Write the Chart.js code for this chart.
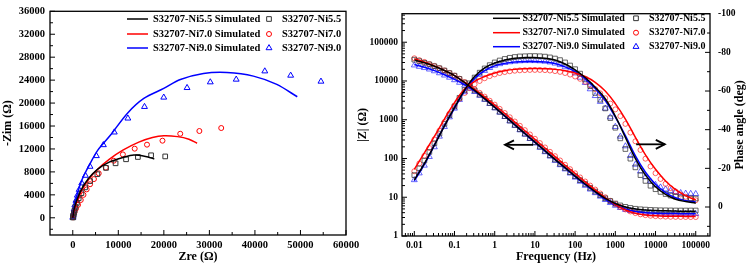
<!DOCTYPE html>
<html>
<head>
<meta charset="utf-8">
<script src="https://cdn.jsdelivr.net/npm/chart.js@4.4.0/dist/chart.umd.min.js"></script>
<style>
html, body { margin: 0; padding: 0; background: #fff; }
#wrap { position: relative; width: 751px; height: 269px; overflow: hidden; }
#nyq { position: absolute; left: 0; top: 0; }
#bode { position: absolute; left: 345px; top: 0; }
</style>
</head>
<body>
<div id="wrap">
  <canvas id="nyq" width="375" height="269"></canvas>
  <canvas id="bode" width="406" height="269"></canvas>
</div>
<script>
// series names
const seriesNames = ["S32707-Ni5.5", "S32707-Ni7.0", "S32707-Ni9.0"]

// ---- Nyquist (left) ----
const nyqXTicks = [0, 10000, 20000, 30000, 40000, 50000, 60000]
const nyqYTicks = [0, 4000, 8000, 12000, 16000, 20000, 24000, 28000, 32000, 36000]

// measured points
const nyqZre55 = [40, 80, 150, 250, 400, 600, 900, 1300, 1900, 2700, 3800, 5400, 7300, 9400, 11700, 14300, 17200, 20300]
const nyqZim55 = [50, 150, 400, 800, 1300, 1900, 2600, 3400, 4300, 5300, 6400, 7600, 8700, 9500, 10200, 10600, 10900, 10700]
const nyqZre70 = [60, 150, 400, 700, 1150, 1750, 2350, 3050, 3800, 4650, 5700, 7250, 9000, 11000, 13600, 16300, 19700, 23600, 27800, 32600]
const nyqZim70 = [80, 500, 1000, 1600, 2250, 3100, 4000, 4950, 5850, 6750, 7750, 8750, 9950, 11050, 12050, 12750, 13440, 14650, 15130, 15650]
const nyqZre90 = [20, 50, 100, 180, 300, 450, 700, 1000, 1400, 1970, 2780, 3790, 5190, 6720, 9120, 12100, 15750, 19980, 25100, 30200, 35890, 42170, 47850, 54500]
const nyqZim90 = [30, 150, 450, 900, 1500, 2200, 3000, 3900, 4900, 6030, 7360, 8930, 10790, 12700, 14910, 17340, 19360, 20990, 22660, 23650, 24120, 25560, 24810, 23770]

// simulated curves
const nyqSimZre55 = [0, 300, 1000, 2000, 3500, 5500, 8000, 11000, 13400, 16000, 17900]
const nyqSimZim55 = [0, 1500, 3300, 5100, 6900, 8500, 9700, 10500, 10950, 10700, 10260]
const nyqSimZre70 = [0, 300, 1000, 2000, 3500, 5500, 8000, 11000, 14500, 17500, 20000, 23000, 25500, 27300]
const nyqSimZim70 = [0, 1300, 3000, 4800, 6700, 8500, 10200, 11800, 13200, 14000, 14300, 14150, 13700, 13000]
const nyqSimZre90 = [0, 300, 1000, 2000, 3500, 5500, 8300, 11970, 15600, 19980, 23630, 28700, 33850, 39670, 44800, 49300]
const nyqSimZim90 = [0, 1800, 4200, 6600, 9000, 11800, 14430, 18200, 20800, 22550, 24100, 25150, 25320, 24700, 23250, 21100]

// ---- Bode (right) ----
const bodeFTicks = [0.01, 0.1, 1, 10, 100, 1000, 10000, 100000]
const bodeZTicks = [1, 10, 100, 1000, 10000, 100000]
const bodePTicks = [-100, -80, -60, -40, -20, 0]

const freqSim = [0.01, 0.0178, 0.0316, 0.0562, 0.1, 0.178, 0.316, 0.562, 1, 1.78, 3.16, 5.62, 10, 17.8, 31.6, 56.2,
  100, 178, 316, 562, 1000, 1780, 3160, 5620, 10000, 17800, 31600, 56200, 100000]
const zSim55 = [35000, 29500, 24000, 18600, 13800, 9100, 5700, 3500, 2100, 1250, 740, 440, 265, 158, 95, 58,
  35, 22, 14, 9.3, 6.9, 5.6, 5.0, 4.7, 4.55, 4.45, 4.4, 4.35, 4.35]
const zSim70 = [37500, 31000, 24500, 18600, 13700, 9300, 6100, 3900, 2400, 1450, 870, 520, 312, 186, 112, 67,
  41, 25, 15.5, 9.8, 6.5, 4.7, 3.85, 3.5, 3.33, 3.25, 3.22, 3.2, 3.18]
const zSim90 = [26500, 22500, 18500, 14500, 11000, 8000, 5500, 3420, 2070, 1240, 735, 435, 260, 155, 93, 56,
  34, 21, 13.5, 8.8, 6.3, 5.0, 4.3, 4.0, 3.85, 3.8, 3.78, 3.76, 3.75]
const pSim55 = [-14, -22.5, -32, -42, -51.5, -60.5, -67.5, -72, -74.5, -76, -77, -77.3, -77.3, -77, -76, -74,
  -71, -67, -62, -56, -47, -36, -25, -16.5, -10.5, -6.5, -4, -2.8, -2]
const pSim70 = [-19.5, -28, -36.5, -45.5, -54, -61, -65, -67.5, -69.3, -70.5, -71.2, -71.5, -71.6, -71.5, -71.2, -70.5,
  -69.3, -67.5, -64.5, -60, -53.5, -45.5, -36, -27, -19.5, -13.5, -9, -5.8, -3.6]
const pSim90 = [-13.5, -22, -32, -42, -51, -60, -66.5, -70.5, -73, -74.3, -75, -75.3, -75.3, -75, -74.2, -72.5,
  -70, -66.3, -61.3, -55, -46.5, -37, -26.5, -18, -11.8, -7.5, -4.8, -3.3, -2.6]

const freqExp = [0.01, 0.0133, 0.0178, 0.0237, 0.0316, 0.0422, 0.0562, 0.075,
  0.1, 0.133, 0.178, 0.237, 0.316, 0.422, 0.562, 0.75,
  1, 1.33, 1.78, 2.37, 3.16, 4.22, 5.62, 7.5,
  10, 13.3, 17.8, 23.7, 31.6, 42.2, 56.2, 75,
  100, 133, 178, 237, 316, 422, 562, 750,
  1000, 1330, 1780, 2370, 3160, 4220, 5620, 7500,
  10000, 13300, 17800, 23700, 31600, 42200, 56200, 75000,
  100000]
const zExp55 = [35500, 32500, 29500, 26800, 24000, 21300, 18600, 16000,
  13700, 11300, 9100, 7200, 5700, 4450, 3480, 2700,
  2080, 1610, 1240, 955, 735, 567, 437, 338,
  262, 203, 157, 121, 94, 73, 57, 44.5,
  35, 27.6, 22, 17.5, 14, 11.4, 9.4, 8,
  6.9, 6.15, 5.65, 5.3, 5.05, 4.9, 4.8, 4.72,
  4.66, 4.62, 4.6, 4.58, 4.56, 4.55, 4.55, 4.55,
  4.55]
const zExp70 = [38500, 34500, 31000, 27500, 24500, 21500, 18700, 16100,
  13800, 11500, 9400, 7600, 6150, 4950, 3950, 3100,
  2450, 1910, 1490, 1160, 900, 700, 540, 418,
  323, 250, 193, 149, 115, 89, 69, 53,
  41.5, 32.5, 25.5, 20, 15.8, 12.5, 10, 8.1,
  6.7, 5.6, 4.85, 4.3, 3.9, 3.62, 3.45, 3.33,
  3.25, 3.2, 3.16, 3.13, 3.11, 3.1, 3.09, 3.08,
  3.08]
const zExp90 = [25500, 23500, 21800, 20000, 18000, 16000, 14000, 12300,
  10600, 9100, 7700, 6400, 5250, 4200, 3300, 2580,
  2000, 1540, 1190, 915, 705, 542, 417, 322,
  248, 191, 147, 114, 88, 68, 53, 41.5,
  32.5, 25.5, 20, 16, 12.9, 10.5, 8.6, 7.2,
  6.1, 5.35, 4.8, 4.45, 4.2, 4.05, 3.95, 3.88,
  3.83, 3.8, 3.78, 3.77, 3.76, 3.75, 3.75, 3.74,
  3.74]
const pExp55 = [-16.5, -20, -24, -28.5, -33, -38, -43, -47.5,
  -52, -56.5, -60.5, -64, -67, -69.5, -71.7, -73.4,
  -74.8, -75.8, -76.6, -77.2, -77.6, -77.9, -78, -78.1,
  -78.1, -78, -77.8, -77.4, -76.8, -76, -74.8, -73.2,
  -71.3, -69, -66, -62.5, -59, -55.5, -51, -46,
  -41, -35.5, -30, -25, -20.5, -16.5, -13.5, -11,
  -9.2, -7.8, -6.7, -5.9, -5.3, -4.9, -4.6, -4.5,
  -4.4]
const pExp70 = [-18.5, -22.5, -26.5, -30.5, -35, -39.5, -44, -48.3,
  -52.5, -56, -59, -61.5, -63.5, -65.2, -66.6, -67.7,
  -68.6, -69.3, -69.8, -70.2, -70.5, -70.7, -70.8, -70.9,
  -70.9, -70.9, -70.8, -70.6, -70.3, -69.9, -69.3, -68.5,
  -67.5, -66.3, -64.8, -63, -61, -58.8, -56.3, -53.5,
  -50.5, -47, -43, -38.5, -34, -29.5, -25, -21,
  -17.5, -14.5, -12, -9.8, -8, -6.5, -5.3, -4.3,
  -3.5]
const pExp90 = [-14, -17.5, -21.5, -26, -31, -36.5, -41.5, -46.5,
  -51, -55.5, -59.5, -63, -66, -68.5, -70.5, -72,
  -73.2, -74, -74.6, -75, -75.3, -75.5, -75.6, -75.6,
  -75.6, -75.5, -75.3, -74.9, -74.3, -73.5, -72.4, -71,
  -69.2, -67, -64.3, -61, -57.5, -54.5, -51, -46.5,
  -41.5, -36.5, -31.5, -26.5, -22, -18.5, -15.5, -13.3,
  -11.5, -10.2, -9.2, -8.4, -7.8, -7.3, -7, -6.9,
  -6.8]

// ---------- helpers ----------
const FONT = '"Liberation Serif", "Times New Roman", serif'
Chart.defaults.font.family = FONT
Chart.defaults.font.weight = 'bold'
Chart.defaults.color = '#000'

const pts = (xs, ys) => xs.map((x, i) => ({x: x, y: ys[i]}))
const lineColors = ['#000000', '#ff0000', '#0000ff']
const markStyles = ['rect', 'circle', 'triangle']
const markRadius = [3.3, 2.5, 3.4]

function logMinors(lo, hi){
    const out = []
    for (let e = -3; e <= 6; e++){
        for (let m = 2; m <= 9; m++){
            const v = m * Math.pow(10, e)
            if (v > lo && v < hi) out.push(v)
        }
    }
    return out
}

// frame + inward tick marks
const frameTicks = {
    id: 'frameTicks',
    afterDraw(chart, args, o){
        const ctx = chart.ctx, a = chart.chartArea
        ctx.save()
        ctx.strokeStyle = '#000'
        ctx.lineWidth = 1.3
        ctx.strokeRect(a.left, a.top, a.right - a.left, a.bottom - a.top)
        ctx.lineWidth = 1
        o.marks.forEach(m => {
            const s = chart.scales[m.axis]
            ctx.beginPath()
            m.values.forEach(v => {
                const p = s.getPixelForValue(v)
                if (m.side === 'bottom'){ ctx.moveTo(p, a.bottom); ctx.lineTo(p, a.bottom - m.len) }
                else if (m.side === 'left'){ ctx.moveTo(a.left, p); ctx.lineTo(a.left + m.len, p) }
                else { ctx.moveTo(a.right, p); ctx.lineTo(a.right - m.len, p) }
            })
            ctx.stroke()
        })
        if (o.rightTitle){
            const t = o.rightTitle
            ctx.font = 'bold ' + t.size + 'px ' + FONT
            ctx.fillStyle = '#000'
            ctx.textAlign = 'center'
            ctx.textBaseline = 'middle'
            ctx.translate(t.x, (a.top + a.bottom) / 2)
            ctx.rotate(-Math.PI / 2)
            ctx.fillText(t.text, 0, 0)
        }
        ctx.restore()
    }
}

// two-column legend (simulated line | measured marker)
const boxLegend = {
    id: 'boxLegend',
    afterDraw(chart, args, o){
        const ctx = chart.ctx
        ctx.save()
        ctx.font = 'bold ' + o.size + 'px ' + FONT
        ctx.textBaseline = 'middle'
        seriesNames.forEach((name, i) => {
            const y = o.rows[i]
            ctx.strokeStyle = lineColors[i]
            ctx.lineWidth = 1.5
            ctx.beginPath(); ctx.moveTo(o.lineX[0], y); ctx.lineTo(o.lineX[1], y); ctx.stroke()
            ctx.fillStyle = '#000'
            ctx.fillText(name + ' Simulated', o.textX, y)
            ctx.strokeStyle = o.markColors[i]
            ctx.fillStyle = 'rgba(0,0,0,0)'
            ctx.lineWidth = 1
            Chart.helpers.drawPoint(ctx, {pointStyle: markStyles[i], radius: markRadius[i], rotation: 0, borderWidth: 1}, o.markX, y)
            ctx.fillStyle = '#000'
            ctx.fillText(name, o.text2X, y)
        })
        ctx.restore()
    }
}

// arrows on the bode plot, placed in data units
const arrows = {
    id: 'arrows',
    afterDraw(chart, args, o){
        const ctx = chart.ctx, sx = chart.scales.x, sy = chart.scales.yZ
        ctx.save()
        ctx.strokeStyle = '#000'
        ctx.lineWidth = 1.8
        o.list.forEach(ar => {
            const x1 = sx.getPixelForValue(ar.from), x2 = sx.getPixelForValue(ar.to), y = sy.getPixelForValue(ar.at)
            const d = Math.sign(x2 - x1)
            ctx.beginPath(); ctx.moveTo(x1, y); ctx.lineTo(x2, y); ctx.stroke()
            ctx.beginPath(); ctx.moveTo(x2 - d * 9, y - 4.5); ctx.lineTo(x2, y); ctx.lineTo(x2 - d * 9, y + 4.5); ctx.stroke()
        })
        ctx.restore()
    }
}

const tickFont = size => ({size: size, weight: 'bold', family: FONT})
const noGrid = {display: false, drawTicks: false}

// ---------- Nyquist chart ----------
const nyqSets = []
const nyqSim = [[nyqSimZre55, nyqSimZim55], [nyqSimZre70, nyqSimZim70], [nyqSimZre90, nyqSimZim90]]
const nyqExp = [[nyqZre55, nyqZim55], [nyqZre70, nyqZim70], [nyqZre90, nyqZim90]]
const nyqMark = ['#333333', '#ff0000', '#0000ff']
nyqSim.forEach((s, i) => nyqSets.push({
    data: pts(s[0], s[1]), showLine: true, borderColor: lineColors[i], borderWidth: 1.5,
    pointRadius: 0, tension: 0.3, fill: false
}))
nyqExp.forEach((s, i) => nyqSets.push({
    data: pts(s[0], s[1]), showLine: false, pointStyle: markStyles[i], pointRadius: markRadius[i],
    pointBorderColor: nyqMark[i], pointBackgroundColor: 'rgba(0,0,0,0)', pointBorderWidth: 1
}))

new Chart(document.getElementById('nyq'), {
    type: 'scatter',
    data: {datasets: nyqSets},
    options: {
        responsive: false, animation: false, events: [],
        layout: {padding: {left: 0, right: 29, top: 11, bottom: 0}},
        plugins: {
            legend: {display: false}, tooltip: {enabled: false},
            boxLegend: {size: 10.5, rows: [19, 34, 48], lineX: [127, 148], textX: 153, markX: 269, text2X: 282, markColors: nyqMark},
            frameTicks: {marks: [
                {axis: 'x', side: 'bottom', len: 5, values: nyqXTicks},
                {axis: 'x', side: 'bottom', len: 3, values: [5000, 15000, 25000, 35000, 45000, 55000]},
                {axis: 'y', side: 'left', len: 5, values: nyqYTicks},
                {axis: 'y', side: 'left', len: 3, values: [-2000, 2000, 6000, 10000, 14000, 18000, 22000, 26000, 30000, 34000]}
            ]}
        },
        scales: {
            x: {
                type: 'linear', min: -5000, max: 60000,
                afterBuildTicks: s => { s.ticks = nyqXTicks.map(v => ({value: v})) },
                afterFit: s => { s.height = 34 },
                grid: noGrid, border: {display: false},
                ticks: {padding: 4, color: '#000', font: tickFont(10.5), autoSkip: false, maxRotation: 0, callback: v => String(v)},
                title: {display: true, text: 'Zre (Ω)', color: '#000', font: tickFont(12), padding: {top: 0, bottom: 5}}
            },
            y: {
                type: 'linear', min: -3000, max: 36000,
                afterBuildTicks: s => { s.ticks = nyqYTicks.map(v => ({value: v})) },
                afterFit: s => { s.width = 50 },
                grid: noGrid, border: {display: false},
                ticks: {padding: 5, color: '#000', font: tickFont(10.5), autoSkip: false, callback: v => String(v)},
                title: {display: true, text: '-Zim (Ω)', color: '#000', font: tickFont(12), padding: {top: 1, bottom: 0}}
            }
        }
    },
    plugins: [frameTicks, boxLegend]
})

// ---------- Bode chart ----------
const bodeMark = ['rgba(40,40,40,0.7)', 'rgba(255,0,0,0.6)', 'rgba(0,0,255,0.6)']
const zSim = [zSim55, zSim70, zSim90], pSim = [pSim55, pSim70, pSim90]
const zExp = [zExp55, zExp70, zExp90], pExp = [pExp55, pExp70, pExp90]
const bodeSets = []
for (let i = 0; i < 3; i++){
    bodeSets.push({data: pts(freqSim, zSim[i]), yAxisID: 'yZ', showLine: true, borderColor: lineColors[i], borderWidth: 1.5, pointRadius: 0, tension: 0.4})
    bodeSets.push({data: pts(freqSim, pSim[i]), yAxisID: 'yP', showLine: true, borderColor: lineColors[i], borderWidth: 1.5, pointRadius: 0, tension: 0.4})
}
for (let i = 0; i < 3; i++){
    const mk = {showLine: false, pointStyle: markStyles[i], pointRadius: markRadius[i], pointBorderColor: bodeMark[i], pointBackgroundColor: 'rgba(0,0,0,0)', pointBorderWidth: 1}
    bodeSets.push(Object.assign({data: pts(freqExp, zExp[i]), yAxisID: 'yZ'}, mk))
    bodeSets.push(Object.assign({data: pts(freqExp, pExp[i]), yAxisID: 'yP'}, mk))
}

new Chart(document.getElementById('bode'), {
    type: 'scatter',
    data: {datasets: bodeSets},
    options: {
        responsive: false, animation: false, events: [],
        layout: {padding: {left: 0, right: 0, top: 10, bottom: 0}},
        plugins: {
            legend: {display: false}, tooltip: {enabled: false},
            boxLegend: {size: 10, rows: [18.3, 32.7, 46.7], lineX: [148, 175], textX: 177.5, markX: 291, text2X: 304, markColors: ['#333333', '#ff0000', '#0000ff']},
            arrows: {list: [{from: 9, to: 1.8, at: 225}, {from: 3300, to: 17000, at: 232}]},
            frameTicks: {
                marks: [
                    {axis: 'x', side: 'bottom', len: 5, values: bodeFTicks},
                    {axis: 'x', side: 'bottom', len: 3, values: logMinors(0.005, 220000)},
                    {axis: 'yZ', side: 'left', len: 5, values: bodeZTicks},
                    {axis: 'yZ', side: 'left', len: 3, values: logMinors(1, 540000)},
                    {axis: 'yP', side: 'right', len: 5, values: bodePTicks},
                    {axis: 'yP', side: 'right', len: 3, values: [-90, -70, -50, -30, -10, 10]}
                ],
                rightTitle: {text: 'Phase angle (deg)', size: 12, x: 395}
            }
        },
        scales: {
            x: {
                type: 'logarithmic', min: 0.00494, max: 226500,
                afterBuildTicks: s => { s.ticks = bodeFTicks.map(v => ({value: v})) },
                afterFit: s => { s.height = 33 },
                grid: noGrid, border: {display: false},
                ticks: {padding: 4, color: '#000', font: tickFont(9.5), autoSkip: false, maxRotation: 0, callback: v => String(v)},
                title: {display: true, text: 'Frequency (Hz)', color: '#000', font: tickFont(12), padding: {top: 0, bottom: 4.5}}
            },
            yZ: {
                type: 'logarithmic', position: 'left', min: 1, max: 544500,
                afterBuildTicks: s => { s.ticks = bodeZTicks.map(v => ({value: v})) },
                afterFit: s => { s.width = 57 },
                grid: noGrid, border: {display: false},
                ticks: {padding: 4, color: '#000', font: tickFont(9.5), autoSkip: false, callback: v => String(v)},
                title: {display: true, text: '|Z| (Ω)', color: '#000', font: tickFont(12), padding: {top: 11, bottom: 0}}
            },
            yP: {
                type: 'linear', position: 'right', min: -100, max: 15, reverse: true,
                afterBuildTicks: s => { s.ticks = bodePTicks.map(v => ({value: v})) },
                afterFit: s => { s.width = 41 },
                grid: noGrid, border: {display: false},
                ticks: {padding: 8, color: '#000', font: tickFont(9.5), autoSkip: false, callback: v => String(v)},
                title: {display: false}
            }
        }
    },
    plugins: [frameTicks, boxLegend, arrows]
})
</script>
</body>
</html>
